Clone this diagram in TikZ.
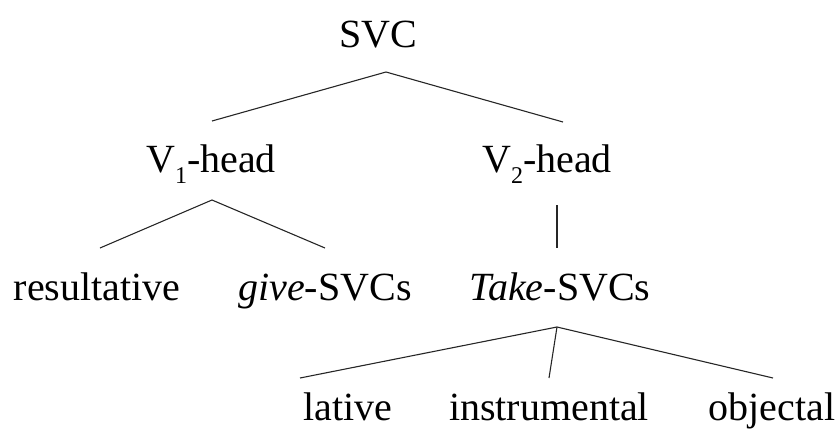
\documentclass[tikz,border=0pt]{standalone}
\usepackage{fontspec}
\setmainfont{Liberation Serif}
\newcommand{\subdig}[1]{\raisebox{-0.28em}{\fontsize{24}{24}\selectfont #1}}
\begin{document}
\begin{tikzpicture}[x=1pt,y=-1pt,
  lab/.style={anchor=base,inner sep=0pt,font=\fontsize{40}{48}\selectfont},
  edge/.style={draw=black!85,line width=1.1pt}]
\useasboundingbox (0,0) rectangle (836,432);
\node[lab] (svc) at (378,47) {SVC};
\node[lab] (v1) at (211,172) {V\subdig{1}-head};
\node[lab] (v2) at (547,172) {V\subdig{2}-head};
\node[lab] (res) at (97,300) {resultative};
\node[lab] (give) at (325,300) {\textit{give}-SVCs};
\node[lab] (take) at (560,300) {\textit{Take}-SVCs};
\node[lab] (lat) at (348,420) {lative};
\node[lab] (ins) at (549,420) {instrumental};
\node[lab] (obj) at (772,420) {objectal};
% connector ends
\coordinate (svcA) at (386,72);
\coordinate (v1T) at (212,121);
\coordinate (v2T) at (563,122);
\coordinate (v1A) at (212,200);
\coordinate (resT) at (100,248);
\coordinate (giveT) at (325,248);
\coordinate (v2A) at (557,205);
\coordinate (takeT) at (557,248);
\coordinate (takeA) at (557,327);
\coordinate (latT) at (300,378);
\coordinate (insT) at (549,378);
\coordinate (objT) at (773,378);
\draw[edge] (v1T) -- (svcA) -- (v2T);
\draw[edge] (resT) -- (v1A) -- (giveT);
\draw[edge] (v2A) -- (takeT);
\draw[edge] (latT) -- (takeA) -- (objT);
\draw[edge] (takeA) -- (insT);
\end{tikzpicture}
\end{document}
